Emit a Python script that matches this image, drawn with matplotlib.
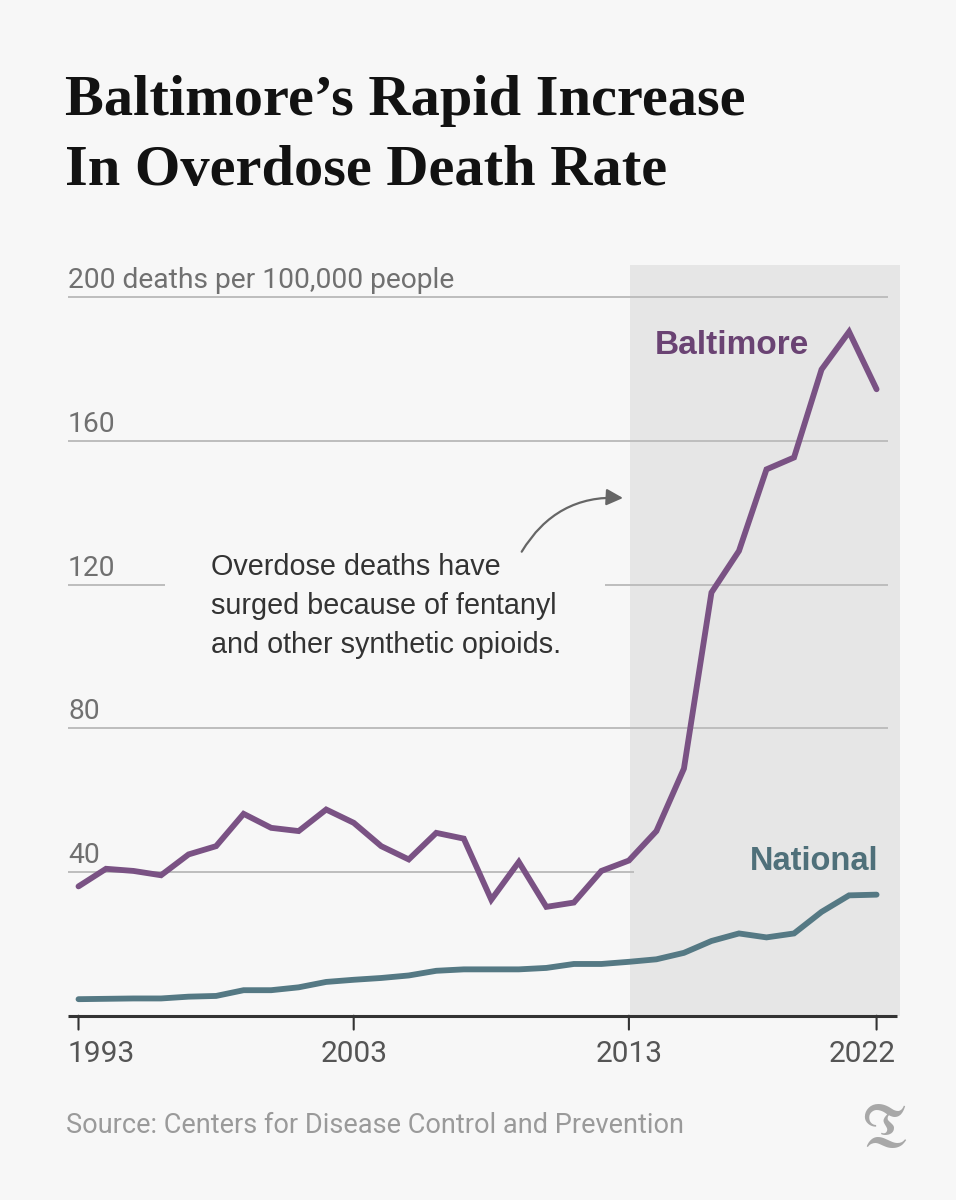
import matplotlib
matplotlib.use("Agg")
import matplotlib.pyplot as plt

years = list(range(1993, 2023))
baltimore = [36.0, 40.9, 40.3, 39.1, 44.9, 47.2, 56.2, 52.3, 51.4, 57.4,
             53.7, 47.2, 43.5, 50.9, 49.3, 32.3, 42.8, 30.3, 31.5, 40.3,
             43.2, 51.4, 68.8, 117.8, 129.4, 152.1, 155.4, 179.9, 190.4, 174.4]
national = [4.6, 4.7, 4.8, 4.8, 5.3, 5.5, 7.1, 7.1, 7.9, 9.4,
            10.0, 10.5, 11.2, 12.5, 12.9, 12.9, 12.9, 13.3, 14.4, 14.4,
            15.0, 15.7, 17.5, 20.8, 22.9, 21.8, 22.9, 28.9, 33.5, 33.7]
tick_years = [1993, 2003, 2013, 2022]
tick_align = ["left", "center", "center", "right"]
grid_vals = [40, 80, 120, 160, 200]
grid_labels = ["40", "80", "120", "160", "200 deaths per 100,000 people"]

W, H = 956, 1200
BG = "#f7f7f7"
PURPLE = "#7a5284"
TEAL = "#557984"
SANS = dict(family="Roboto", fontweight="normal")

fig = plt.figure(figsize=(W / 100, H / 100), dpi=100, facecolor=BG)


def fx(px):
    return px / W


def fy(py):
    return 1 - py / H


def dx(px):
    return 1993 + (px - 78.5) / 27.52


def dy(py):
    return (1015.7 - py) / 3.592


# axes box in pixels: left 68, right 900, top 265, bottom 1015.7
ax = fig.add_axes([fx(68), fy(1015.7), fx(900) - fx(68), fy(265) - fy(1015.7)])
ax.set_facecolor("none")
x0, x1 = dx(68), dx(900)
ax.set_xlim(x0, x1)
ax.set_ylim(0, dy(265))
for s in ax.spines.values():
    s.set_visible(False)
ax.set_xticks([])
ax.set_yticks([])

# shaded fentanyl era
ax.axvspan(2013.05, x1, color="#e6e6e6", lw=0, zorder=0)

# gridlines
gx_end = dx(888)
grid_spans = {
    40: [(x0, 2013.2)],
    80: [(x0, gx_end)],
    120: [(x0, dx(165)), (dx(605), gx_end)],
    160: [(x0, gx_end)],
    200: [(x0, gx_end)],
}
for v, lab in zip(grid_vals, grid_labels):
    for a, b in grid_spans[v]:
        ax.hlines(v, a, b, color="#bdbdbd", lw=1.4, zorder=1)
    ax.text(x0, v + 2.5, lab, fontsize=20.3, color="#707070",
            va="baseline", ha="left", zorder=2, **SANS)

# baseline axis + ticks
ax.hlines(0, x0, dx(897), color="#333333", lw=2.2, zorder=3, clip_on=False)
for ty, al in zip(tick_years, tick_align):
    ax.annotate("", xy=(ty, 0), xytext=(0, -10), textcoords="offset points",
                arrowprops=dict(arrowstyle="-", color="#333333", lw=1.5,
                                shrinkA=0, shrinkB=0))
    tx = {"left": x0, "center": ty, "right": dx(896)}[al]
    ax.annotate(str(ty), xy=(tx, 0), xytext=(0, -33), textcoords="offset points",
                ha=al, va="baseline", fontsize=21.5, color="#555555", **SANS)

# series
ax.plot(years, national, color=TEAL, lw=4.2, solid_capstyle="round",
        solid_joinstyle="miter", zorder=4, clip_on=False)
ax.plot(years, baltimore, color=PURPLE, lw=4.2, solid_capstyle="round",
        solid_joinstyle="miter", zorder=5, clip_on=False)

ax.text(dx(655), dy(354), "Baltimore", fontsize=24, fontweight="bold",
        color="#6a4373", ha="left", va="baseline", family="Liberation Sans")
ax.text(dx(878), dy(870), "National", fontsize=23.5, fontweight="bold",
        color="#4f707a", ha="right", va="baseline", family="Liberation Sans")

# annotation
ax.text(dx(210.7), dy(653),
        "Overdose deaths have\nsurged because of fentanyl\nand other synthetic opioids.",
        fontsize=20.7, color="#333333", ha="left", va="baseline",
        linespacing=1.5, family="Liberation Sans")
ax.annotate("", xy=(dx(623), dy(498)), xytext=(dx(521.7), dy(551.7)),
            arrowprops=dict(arrowstyle="-|>,head_length=1.0,head_width=0.5",
                            connectionstyle="arc3,rad=-0.3", color="#666666",
                            lw=1.6, shrinkA=0, shrinkB=0))

# title
for py, line in [(115, "Baltimore\u2019s Rapid Increase"),
                 (185, "In Overdose Death Rate")]:
    fig.text(fx(65), fy(py), line, fontsize=42, fontweight="bold",
             family="Liberation Serif", color="#121212",
             va="baseline", ha="left")

# footer
fig.text(fx(66), fy(1133), "Source: Centers for Disease Control and Prevention",
         fontsize=19.5, color="#9a9a9a", va="baseline", ha="left", **SANS)
fig.text(fx(884), fy(1131), r"$\mathfrak{T}$", fontsize=44, color="#a8a8a8",
         va="center", ha="center")

fig.savefig("out.png", dpi=100, facecolor=BG)
